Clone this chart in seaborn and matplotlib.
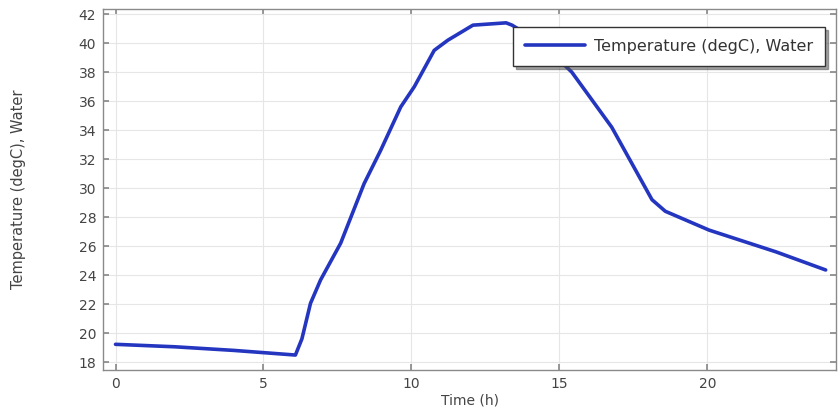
import numpy as np
import pandas as pd
import seaborn as sns
import matplotlib.pyplot as plt

# values
time_h = [0.0, 2.0, 4.0, 6.08, 6.3, 6.59, 6.93, 7.61, 8.40, 8.96, 9.64, 10.1,
          10.77, 11.23, 12.08, 13.2, 13.4, 14.4, 15.42, 16.77, 18.13, 18.58,
          20.06, 22.32, 24.0]
temp_water = [19.22, 19.05, 18.8, 18.48, 19.6, 22.05, 23.66, 26.2, 30.3, 32.6,
              35.6, 37.0, 39.5, 40.2, 41.24, 41.4, 41.24, 40.0, 38.0, 34.2,
              29.2, 28.4, 27.1, 25.6, 24.35]

series_name = "Temperature (degC), Water"
xticks = [0, 5, 10, 15, 20]
yticks = list(range(18, 43, 2))

df = pd.DataFrame({"Time (h)": time_h, series_name: temp_water})

sns.set_theme(style="whitegrid")
plt.rcParams['font.family'] = ['DejaVu Sans']

fig = plt.figure(figsize=(8.38, 4.12), dpi=100)
ax = fig.add_axes([0.123, 0.102, 0.875, 0.876])

sns.lineplot(data=df, x="Time (h)", y=series_name, ax=ax, color="#2436c0",
             linewidth=2.6, label=series_name, sort=False)

ax.set_xlim(-0.42, 24.36)
ax.set_ylim(17.45, 42.35)
ax.set_xticks(xticks)
ax.set_yticks(yticks)
ax.grid(True, color="#e6e6e6", linewidth=0.8)
for s in ax.spines.values():
    s.set_color("#8a8a8a")
    s.set_linewidth(1.0)
ax.tick_params(direction="in", length=4, color="#8a8a8a", labelsize=10,
               labelcolor="#444444", top=True, right=True, bottom=True, left=True,
               pad=5)
ax.set_xlabel("Time (h)", fontsize=10, color="#444444", labelpad=2)
ax.set_ylabel(series_name, fontsize=10.5, color="#444444")
ax.yaxis.set_label_coords(-0.105, 0.5)

leg = ax.legend(loc="upper right", bbox_to_anchor=(0.985, 0.95), fontsize=11.5,
                frameon=True, fancybox=False, shadow=True, borderpad=0.75,
                borderaxespad=0, handlelength=3.75, handletextpad=0.6,
                framealpha=1)
leg.get_frame().set_edgecolor("#333333")
leg.get_frame().set_linewidth(1.0)
for t in leg.get_texts():
    t.set_color("#333333")

fig.savefig("out.png", dpi=100)
